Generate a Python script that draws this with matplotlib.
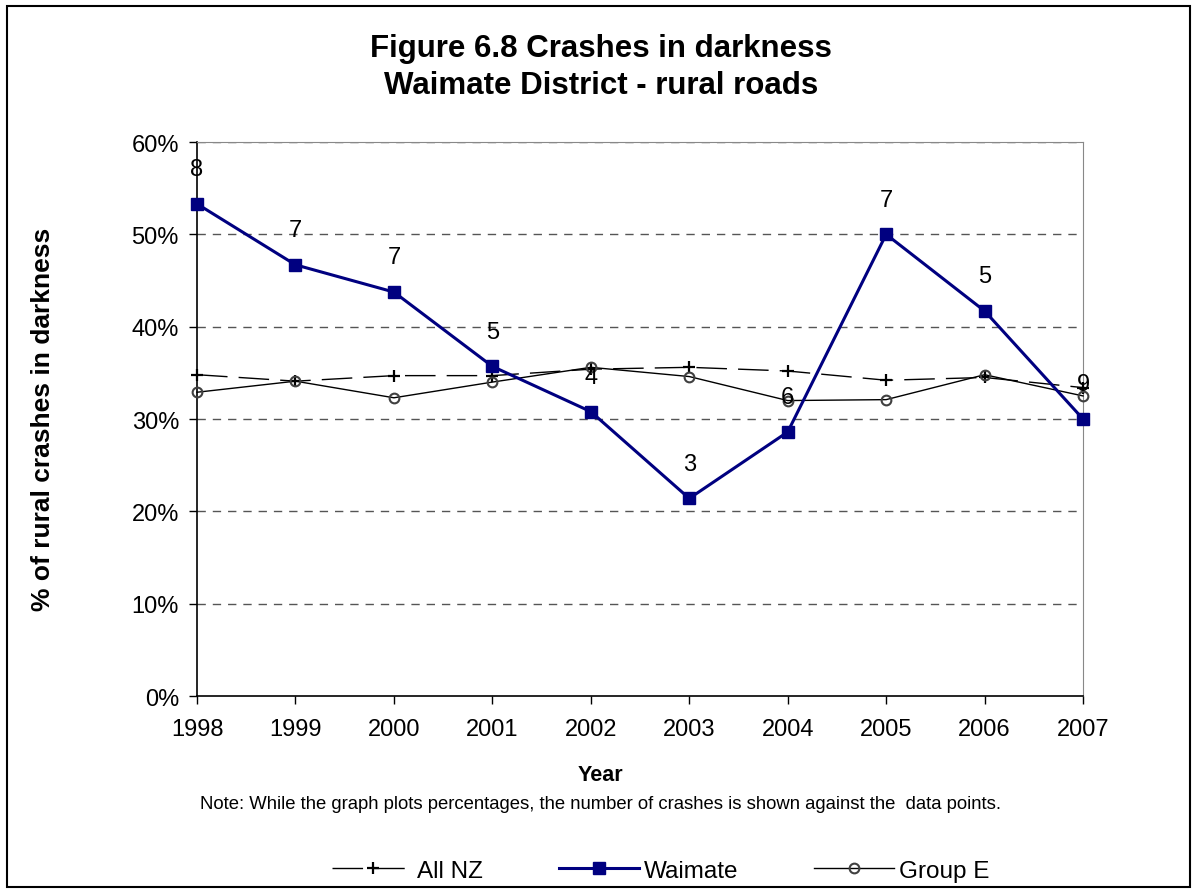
import numpy as np
import matplotlib.pyplot as plt
from matplotlib.patches import Rectangle
from matplotlib.ticker import FuncFormatter

plt.rcParams['font.family'] = ['Liberation Sans', 'DejaVu Sans']

years = [1998, 1999, 2000, 2001, 2002, 2003, 2004, 2005, 2006, 2007]
all_nz = [34.8, 34.1, 34.7, 34.7, 35.4, 35.6, 35.2, 34.2, 34.5, 33.4]
waimate = [53.3, 46.7, 43.75, 35.7, 30.8, 21.4, 28.6, 50.0, 41.7, 30.0]
group_e = [32.9, 34.1, 32.3, 34.0, 35.6, 34.6, 32.0, 32.1, 34.8, 32.5]
crash_counts = [8, 7, 7, 5, 4, 3, 6, 7, 5, 9]

fig = plt.figure(figsize=(11.97, 8.95), dpi=100)
ax = fig.add_axes([0.1646, 0.2212, 0.7402, 0.619])

# frame round the whole chart
fig.patches.append(Rectangle((0.006, 0.008), 0.988, 0.984, transform=fig.transFigure,
                             fill=False, edgecolor='black', linewidth=1.5))

ax.plot(years, all_nz, color='black', linewidth=1, dashes=(22, 8),
        marker='+', markersize=8, markeredgewidth=1.6, clip_on=False, label='All NZ', zorder=3)
ax.plot(years, waimate, color='#000080', linewidth=2.2, marker='s', markersize=8,
        clip_on=False, label='Waimate', zorder=4)
ax.plot(years, group_e, color='black', linewidth=1, marker='o', markersize=7,
        markerfacecolor='none', markeredgecolor='#404040', markeredgewidth=1.5,
        clip_on=False, label='Group E', zorder=3)

for x, y, n in zip(years, waimate, crash_counts):
    ax.annotate(str(n), (x, y), xytext=(0, 25), textcoords='offset points',
                ha='center', va='center', fontsize=17, zorder=5)

ax.set_xlim(1998, 2007)
ax.set_ylim(0, 60)
ax.set_xticks(years)
ax.set_yticks(np.arange(0, 61, 10))
ax.yaxis.set_major_formatter(FuncFormatter(lambda v, p: f'{v:.0f}%'))
ax.tick_params(axis='both', labelsize=17, direction='out', length=6, width=1)
ax.tick_params(axis='x', pad=10)
ax.tick_params(axis='y', pad=7)

for v in range(10, 61, 10):
    ax.axhline(v, color='#555555', linewidth=1, dashes=(6, 5), zorder=1)

ax.spines['left'].set_linewidth(1.2)
ax.spines['bottom'].set_linewidth(1.2)
ax.spines['top'].set_color('#888888')
ax.spines['right'].set_color('#888888')

fig.text(0.502, 0.134, 'Year', ha='center', va='center', fontsize=15.5, fontweight='bold')
fig.text(0.036, 0.531, '% of rural crashes in darkness', rotation=90,
         ha='center', va='center', fontsize=19, fontweight='bold')

fig.text(0.502, 0.925, 'Figure 6.8 Crashes in darkness\nWaimate District - rural roads',
         ha='center', va='center', fontsize=22.5, fontweight='bold', linespacing=1.3)
fig.text(0.502, 0.101, 'Note: While the graph plots percentages, the number of crashes is shown against the  data points.',
         ha='center', va='center', fontsize=13.3)

fig.legend(loc='center', bbox_to_anchor=(0.552, 0.026), ncol=3, frameon=False,
           fontsize=17.5, handlelength=3.3, columnspacing=3.1, handletextpad=0.2)

fig.savefig('out.png', dpi=100)
